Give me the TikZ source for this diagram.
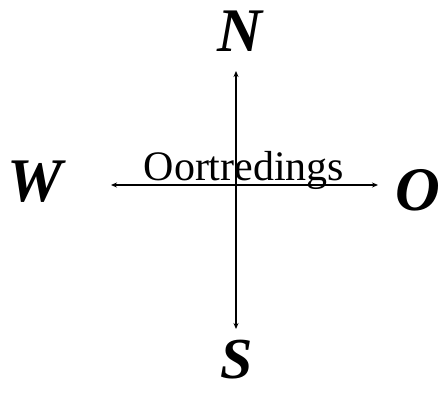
\documentclass[tikz,border=0pt]{standalone}
\usepackage{fontspec}
\usetikzlibrary{arrows.meta}
\newfontfamily\dirfont{Liberation Serif}
\newfontfamily\titlefont{Liberation Serif}
\tikzset{
  dirletter/.style={inner sep=0pt, font=\dirfont\bfseries\itshape\fontsize{62}{64}\selectfont},
  axis/.style={line width=1.1pt, -{Stealth[length=6pt,width=5pt]}},
  title/.style={inner sep=0pt, anchor=base, font=\titlefont\fontsize{42}{46}\selectfont}
}
\begin{document}
\begin{tikzpicture}[x=1pt,y=-1pt]
\useasboundingbox (0,0) rectangle (440,392);
\coordinate (c) at (236,185);
\coordinate (top) at (236,71);
\coordinate (bot) at (236,329);
\coordinate (lft) at (111,185);
\coordinate (rgt) at (378,185);
\draw[axis] (c) -- (top);
\draw[axis] (c) -- (bot);
\draw[axis] (c) -- (lft);
\draw[axis] (c) -- (rgt);
\node[title] (t) at (244,180) {Oortredings};
\node[dirletter] (n) at (240,31) {N};
\node[dirletter] (w) at (35,182) {W};
\node[dirletter] (o) at (418,190) {O};
\node[dirletter, anchor=base, font=\dirfont\bfseries\itshape\fontsize{58}{60}\selectfont] (s) at (237,378) {S};
\end{tikzpicture}
\end{document}
